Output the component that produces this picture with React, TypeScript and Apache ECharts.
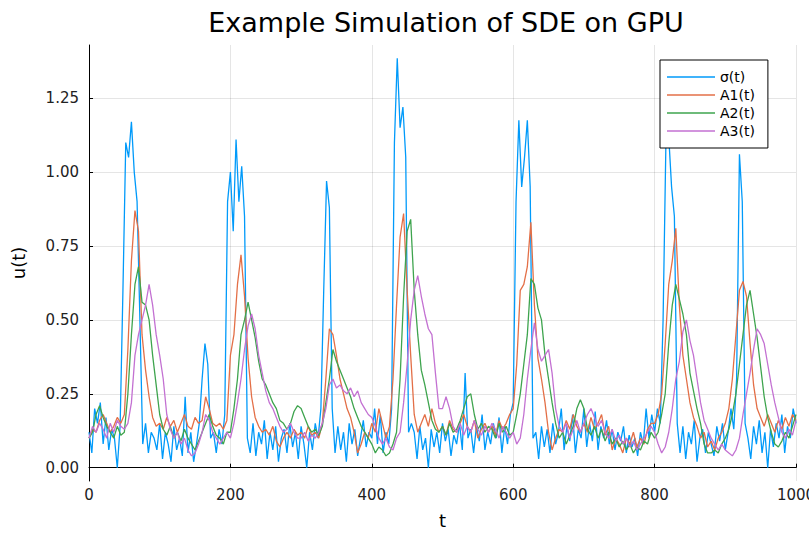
import React, { useEffect, useRef } from "react";
import * as echarts from "echarts";

const TITLE = "Example Simulation of SDE on GPU";
const X_NAME = "t";
const Y_NAME = "u(t)";
const SERIES_NAMES = ["σ(t)", "A1(t)", "A2(t)", "A3(t)"];
const COLORS = ["#009AFA", "#E36F47", "#3EA44E", "#C371D2"];
const Y_TICKS = [0, 0.25, 0.5, 0.75, 1.0, 1.25];
const X_MIN = 0;
const X_MAX = 1000;
const X_INTERVAL = 200;
const Y_MIN = -0.045;
const Y_MAX = 1.43;

// sampling step (time units) of each series
const SIGMA_STEP = 4;
const A_STEP = 5;

const sigma = [
  0.12, 0.05, 0.2, 0.15, 0.22, 0.08, 0.17, 0.06, 0.13, 0.1, 0.0, 0.14, 0.6, 1.1, 1.05, 1.17, 1.0, 0.9, 0.5, 0.08, 0.15, 0.05, 0.12, 0.1, 0.06,
  0.15, 0.03, 0.12, 0.08, 0.02, 0.14, 0.06, 0.1, 0.04, 0.24, 0.05, 0.12, 0.02, 0.08, 0.15, 0.3, 0.42, 0.35, 0.1, 0.12, 0.05, 0.13, 0.08, 0.18, 0.9,
  1.0, 0.8, 1.11, 0.9, 1.02, 0.85, 0.1, 0.05, 0.15, 0.04, 0.12, 0.08, 0.16, 0.03, 0.12, 0.06, 0.14, 0.02, 0.1, 0.13, 0.05, 0.15, 0.07, 0.12, 0.03,
  0.14, 0.08, 0.0, 0.12, 0.06, 0.15, 0.1, 0.2, 0.6, 0.97, 0.88, 0.2, 0.05, 0.14, 0.06, 0.12, 0.02, 0.15, 0.08, 0.13, 0.04, 0.1, 0.16, 0.07, 0.12,
  0.1, 0.2, 0.08, 0.18, 0.05, 0.12, 0.08, 0.2, 1.1, 1.385, 1.15, 1.22, 1.05, 0.12, 0.15, 0.12, 0.03, 0.14, 0.06, 0.1, 0.0, 0.13, 0.07, 0.12, 0.05,
  0.15, 0.09, 0.13, 0.04, 0.11, 0.08, 0.15, 0.06, 0.32, 0.1, 0.13, 0.05, 0.14, 0.09, 0.18, 0.06, 0.12, 0.08, 0.15, 0.1, 0.17, 0.05, 0.14, 0.08, 0.18,
  0.22, 0.9, 1.175, 0.95, 1.05, 1.175, 0.95, 0.1, 0.12, 0.03, 0.14, 0.07, 0.13, 0.05, 0.15, 0.08, 0.12, 0.2, 0.06, 0.14, 0.09, 0.18, 0.05, 0.13, 0.1,
  0.2, 0.07, 0.15, 0.09, 0.19, 0.06, 0.14, 0.1, 0.16, 0.08, 0.13, 0.06, 0.12, 0.09, 0.14, 0.05, 0.11, 0.07, 0.1, 0.04, 0.12, 0.08, 0.2, 0.1, 0.18,
  0.12, 0.2, 0.15, 0.5, 1.1, 1.12, 0.95, 0.85, 0.15, 0.05, 0.14, 0.03, 0.12, 0.08, 0.16, 0.02, 0.1, 0.13, 0.05, 0.12, 0.08, 0.04, 0.14, 0.09, 0.15,
  0.06, 0.12, 0.2, 0.13, 0.3, 1.06, 0.9, 0.15, 0.1, 0.03, 0.14, 0.08, 0.16, 0.05, 0.12, 0.0, 0.13, 0.07, 0.15, 0.1, 0.18, 0.05, 0.14, 0.1, 0.2,
  0.15,
];

const a1 = [
  0.1, 0.13, 0.12, 0.16, 0.18, 0.15, 0.12, 0.14, 0.17, 0.15, 0.18, 0.4, 0.7, 0.87, 0.8, 0.45, 0.33, 0.24, 0.17, 0.14,
  0.15, 0.13, 0.17, 0.14, 0.16, 0.12, 0.15, 0.18, 0.14, 0.13, 0.17, 0.15, 0.16, 0.24, 0.2, 0.15, 0.14, 0.15, 0.13, 0.16,
  0.38, 0.45, 0.62, 0.72, 0.58, 0.37, 0.24, 0.17, 0.14, 0.12, 0.13, 0.11, 0.14, 0.09, 0.07, 0.1, 0.12, 0.1, 0.13, 0.11,
  0.12, 0.1, 0.14, 0.11, 0.12, 0.1, 0.15, 0.3, 0.47, 0.45, 0.38, 0.3, 0.25, 0.2, 0.17, 0.12, 0.05, 0.08, 0.12, 0.1,
  0.15, 0.12, 0.2, 0.15, 0.1, 0.14, 0.3, 0.55, 0.78, 0.86, 0.6, 0.38, 0.18, 0.12, 0.15, 0.18, 0.14, 0.2, 0.15, 0.12,
  0.14, 0.11, 0.16, 0.13, 0.12, 0.15, 0.18, 0.14, 0.12, 0.16, 0.1, 0.13, 0.15, 0.12, 0.14, 0.11, 0.16, 0.13, 0.15, 0.18,
  0.2, 0.35, 0.6, 0.62, 0.68, 0.83, 0.55, 0.37, 0.3, 0.22, 0.12, 0.06, 0.1, 0.13, 0.12, 0.16, 0.13, 0.18, 0.14, 0.12,
  0.15, 0.12, 0.17, 0.13, 0.15, 0.18, 0.11, 0.14, 0.06, 0.1, 0.08, 0.05, 0.1, 0.08, 0.12, 0.07, 0.1, 0.08, 0.13, 0.15,
  0.15, 0.18, 0.25, 0.42, 0.62, 0.7, 0.81, 0.55, 0.38, 0.3, 0.22, 0.17, 0.14, 0.1, 0.12, 0.07, 0.09, 0.06, 0.1, 0.12,
  0.15, 0.2, 0.3, 0.45, 0.6, 0.63, 0.58, 0.42, 0.28, 0.2, 0.17, 0.14, 0.18, 0.15, 0.12, 0.16, 0.13, 0.17, 0.14, 0.18,
  0.16,
];

const a2 = [
  0.1, 0.12, 0.18, 0.21, 0.17, 0.14, 0.12, 0.1, 0.14, 0.11, 0.12, 0.25, 0.45, 0.62, 0.68, 0.56, 0.55, 0.5, 0.38, 0.28,
  0.18, 0.13, 0.11, 0.14, 0.1, 0.12, 0.09, 0.13, 0.1, 0.08, 0.06, 0.09, 0.12, 0.15, 0.18, 0.14, 0.11, 0.1, 0.08, 0.12,
  0.12, 0.2, 0.3, 0.45, 0.5, 0.56, 0.5, 0.44, 0.36, 0.3, 0.28, 0.25, 0.22, 0.2, 0.16, 0.15, 0.13, 0.15, 0.19, 0.21,
  0.2, 0.17, 0.14, 0.12, 0.13, 0.11, 0.14, 0.22, 0.3, 0.4, 0.36, 0.33, 0.3, 0.27, 0.24, 0.2, 0.17, 0.14, 0.12, 0.1,
  0.08, 0.05, 0.07, 0.06, 0.04, 0.05, 0.08, 0.12, 0.3, 0.58, 0.8, 0.84, 0.6, 0.45, 0.33, 0.28, 0.22, 0.16, 0.13, 0.12,
  0.14, 0.11, 0.15, 0.12, 0.13, 0.16, 0.2, 0.24, 0.25, 0.18, 0.13, 0.15, 0.12, 0.14, 0.13, 0.1, 0.15, 0.12, 0.14, 0.11,
  0.12, 0.18, 0.25, 0.35, 0.45, 0.64, 0.62, 0.54, 0.5, 0.38, 0.3, 0.22, 0.15, 0.1, 0.12, 0.08, 0.11, 0.14, 0.2, 0.23,
  0.2, 0.13, 0.11, 0.14, 0.1, 0.13, 0.09, 0.12, 0.08, 0.1, 0.07, 0.09, 0.06, 0.08, 0.05, 0.07, 0.06, 0.09, 0.08, 0.12,
  0.1, 0.12, 0.18, 0.25, 0.42, 0.55, 0.62, 0.57, 0.52, 0.45, 0.32, 0.26, 0.2, 0.15, 0.08, 0.05, 0.05, 0.06, 0.05, 0.08,
  0.1, 0.13, 0.18, 0.25, 0.35, 0.45, 0.55, 0.6, 0.52, 0.44, 0.34, 0.24, 0.17, 0.12, 0.08, 0.07, 0.09, 0.12, 0.1, 0.14,
  0.18,
];

const a3 = [
  0.1, 0.14, 0.12, 0.15, 0.13, 0.1, 0.15, 0.12, 0.16, 0.14, 0.13, 0.15, 0.22, 0.38, 0.45, 0.5, 0.55, 0.62, 0.55, 0.45,
  0.38, 0.3, 0.18, 0.13, 0.1, 0.12, 0.08, 0.1, 0.06, 0.04, 0.05, 0.08, 0.12, 0.18, 0.16, 0.12, 0.1, 0.08, 0.1, 0.12,
  0.1, 0.15, 0.22, 0.3, 0.4, 0.48, 0.52, 0.47, 0.38, 0.32, 0.26, 0.22, 0.2, 0.17, 0.14, 0.12, 0.13, 0.15, 0.12, 0.1,
  0.1, 0.12, 0.09, 0.11, 0.1, 0.12, 0.15, 0.2, 0.28, 0.3, 0.27, 0.28, 0.26, 0.25, 0.27, 0.24, 0.26, 0.22, 0.2, 0.18,
  0.17, 0.14, 0.1, 0.08, 0.1, 0.07, 0.06, 0.1, 0.12, 0.22, 0.35, 0.5, 0.6, 0.65, 0.58, 0.52, 0.47, 0.45, 0.32, 0.2,
  0.2, 0.24, 0.2, 0.14, 0.12, 0.15, 0.11, 0.14, 0.12, 0.16, 0.13, 0.11, 0.14, 0.12, 0.15, 0.13, 0.1, 0.14, 0.12, 0.1,
  0.12, 0.08, 0.1, 0.18, 0.3, 0.4, 0.49, 0.4, 0.36, 0.38, 0.4, 0.32, 0.2, 0.14, 0.12, 0.15, 0.1, 0.13, 0.16, 0.12,
  0.15, 0.18, 0.2, 0.17, 0.14, 0.16, 0.12, 0.1, 0.13, 0.09, 0.11, 0.08, 0.1, 0.07, 0.09, 0.06, 0.08, 0.1, 0.12, 0.14,
  0.12, 0.08, 0.05, 0.07, 0.12, 0.2, 0.3, 0.36, 0.46, 0.5, 0.43, 0.38, 0.3, 0.22, 0.16, 0.13, 0.1, 0.08, 0.06, 0.08,
  0.06, 0.05, 0.04, 0.06, 0.1, 0.18, 0.25, 0.32, 0.4, 0.47, 0.45, 0.42, 0.35, 0.28, 0.22, 0.17, 0.12, 0.1, 0.13, 0.11,
  0.16,
];

const FONT = "DejaVu Sans";

function toPairs(values: number[], step: number): [number, number][] {
  return values.map((v, i) => [i * step, v]);
}

export default function App() {
  const ref = useRef<HTMLDivElement>(null);

  useEffect(() => {
    if (!ref.current) return;
    const chart = echarts.init(ref.current, undefined, { renderer: "svg" });
    const seriesData = [
      toPairs(sigma, SIGMA_STEP),
      toPairs(a1, A_STEP),
      toPairs(a2, A_STEP),
      toPairs(a3, A_STEP),
    ];
    chart.setOption({
      animation: false,
      backgroundColor: "#ffffff",
      title: {
        text: TITLE,
        left: 441,
        textAlign: "center",
        top: 4,
        textStyle: { fontFamily: FONT, fontSize: 27, fontWeight: "normal", color: "#000" },
      },
      grid: {
        left: 89,
        right: 13,
        top: 45,
        bottom: 52,
        containLabel: false,
        outerBoundsMode: "none",
      },
      legend: {
        orient: "vertical",
        left: 660,
        top: 60,
        data: SERIES_NAMES,
        icon: "rect",
        itemWidth: 48,
        itemHeight: 1.5,
        itemGap: 4,
        padding: [10, 13, 10, 7],
        borderColor: "#000",
        borderWidth: 1,
        borderRadius: 0,
        backgroundColor: "#fff",
        textStyle: { fontFamily: FONT, fontSize: 14, color: "#000", lineHeight: 14 },
      },
      xAxis: {
        type: "value",
        min: X_MIN,
        max: X_MAX,
        interval: X_INTERVAL,
        name: X_NAME,
        nameLocation: "middle",
        nameGap: 30,
        nameTextStyle: { fontFamily: FONT, fontSize: 18, color: "#000" },
        axisLine: { show: true, lineStyle: { color: "#000", width: 1 } },
        axisTick: { show: true, inside: true, length: 4, lineStyle: { color: "#000" } },
        axisLabel: {
          fontFamily: FONT,
          fontSize: 15,
          color: "#222",
          margin: 6,
          formatter: (v: number) => String(v),
        },
        splitLine: { show: true, lineStyle: { color: "rgba(0,0,0,0.1)", width: 1 } },
      },
      yAxis: {
        type: "value",
        min: Y_MIN,
        max: Y_MAX,
        name: Y_NAME,
        nameLocation: "middle",
        nameRotate: 90,
        nameGap: 62,
        nameTextStyle: { fontFamily: FONT, fontSize: 18, color: "#000" },
        axisLine: { show: true, onZero: false, lineStyle: { color: "#000", width: 1 } },
        axisTick: { show: true, inside: true, length: 4, customValues: Y_TICKS, lineStyle: { color: "#000" } },
        axisLabel: {
          fontFamily: FONT,
          fontSize: 15,
          color: "#222",
          margin: 10,
          customValues: Y_TICKS,
          formatter: (v: number) => v.toFixed(2),
        },
        splitLine: { show: true, customValues: Y_TICKS, lineStyle: { color: "rgba(0,0,0,0.1)", width: 1 } },
      },
      series: SERIES_NAMES.map((name, i) => ({
        name,
        type: "line",
        data: seriesData[i],
        showSymbol: false,
        symbol: "none",
        color: COLORS[i],
        lineStyle: { width: 1.3, color: COLORS[i] },
        z: 2 + i,
      })),
    });
    return () => chart.dispose();
  }, []);

  return <div ref={ref} style={{ width: 809, height: 533, position: "absolute", left: 0, top: 0 }} />;
}
